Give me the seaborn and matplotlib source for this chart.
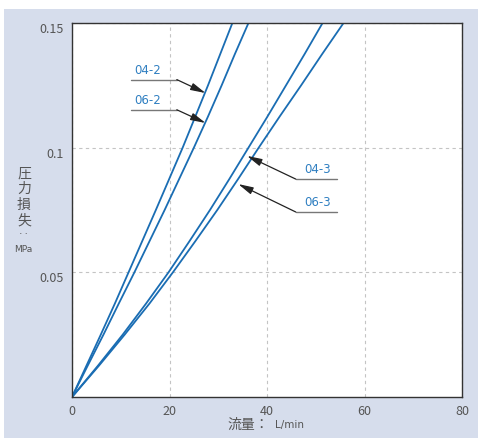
import numpy as np
import pandas as pd
import seaborn as sns
import matplotlib.pyplot as plt
import matplotlib.transforms as mtransforms
from matplotlib.patches import Rectangle

# pressure loss (MPa) and flow (L/min) for each model
pressure = [0, 0.0125, 0.025, 0.0375, 0.05, 0.0625, 0.075, 0.0875,
            0.1, 0.1125, 0.125, 0.1375, 0.15]
flow_04_2 = [0, 2.95, 5.9, 8.8, 11.6, 14.4, 17.2, 19.95, 22.7, 25.3, 27.9, 30.4, 32.9]
flow_06_2 = [0, 3.2, 6.45, 9.6, 12.8, 15.9, 19.0, 22.0, 25.0, 27.9, 30.7, 33.4, 36.2]
flow_04_3 = [0, 5.3, 10.4, 15.2, 19.8, 24.1, 28.3, 32.3, 36.2, 40.1, 43.9, 47.7, 51.4]
flow_06_3 = [0, 5.5, 10.8, 15.9, 20.7, 25.3, 29.8, 34.1, 38.3, 42.6, 47.0, 51.3, 55.7]
models = ["04-2", "06-2", "04-3", "06-3"]

x_ticks = [0, 20, 40, 60, 80]
y_ticks = [0.05, 0.1, 0.15]
y_labels = ["0.05", "0.1", "0.15"]

rows = []
for name, fl in zip(models, [flow_04_2, flow_06_2, flow_04_3, flow_06_3]):
    for q, p in zip(fl, pressure):
        rows.append({"model": name, "flow": q, "pressure": p})
df = pd.DataFrame(rows)

sns.set_style("white")
plt.rcParams["font.family"] = ["Noto Sans CJK JP", "DejaVu Sans"]

line_blue = "#1a6db3"
text_blue = "#2f7fc1"
grey_txt = "#555555"

fig = plt.figure(figsize=(4.78, 4.39), dpi=100, facecolor="white")
fig.patches.append(Rectangle((4 / 478, 0), 1 - 4 / 478, 429 / 439,
                             transform=fig.transFigure, facecolor="#d6ddec",
                             edgecolor="none", zorder=-10))
ax = fig.add_axes([72 / 478, 41 / 439, 390 / 478, 374 / 439])
ax.set_zorder(5)
ax.set_facecolor("white")

sns.lineplot(data=df, x="flow", y="pressure", hue="model", units="model",
             estimator=None, palette=[line_blue] * 4, legend=False,
             linewidth=1.3, ax=ax)

ax.set_xlim(0, 80)
ax.set_ylim(0, 0.15)
ax.set_xticks(x_ticks)
ax.set_yticks(y_ticks)
ax.set_yticklabels(y_labels)
ax.tick_params(length=0, labelsize=9, colors=grey_txt)
ax.tick_params(axis="x", pad=5)
ax.tick_params(axis="y", pad=6)
shift = mtransforms.ScaledTranslation(0, -4 / 100, fig.dpi_scale_trans)
for lab in ax.get_yticklabels():
    lab.set_transform(lab.get_transform() + shift)
ax.grid(True, color="#c4c4c4", linestyle=(0, (3, 3)), linewidth=0.8)
for s in ax.spines.values():
    s.set_color("#333333")
    s.set_linewidth(1.0)
ax.set_xlabel("")
ax.set_ylabel("")

# leader labels
def leader(text, tx, x0, x1, y, tip):
    ax.plot([x0, x1], [y, y], color="#777777", lw=1.0, clip_on=False)
    ax.text(tx, y + 0.0015, text, color=text_blue, fontsize=8.5,
            ha="center", va="bottom", family="DejaVu Sans")
    ax.annotate("", xy=tip, xytext=(x1 if tip[0] > x1 else x0, y),
                arrowprops=dict(arrowstyle="-|>,head_length=0.9,head_width=0.22",
                                color="#222222", lw=0.9, shrinkA=0, shrinkB=0))

leader("04-2", 15.5, 12.1, 21.5, 0.1273, (27.4, 0.1219))
leader("06-2", 15.5, 12.1, 21.5, 0.1152, (27.4, 0.1099))
leader("04-3", 50.4, 45.9, 54.4, 0.0874, (35.9, 0.0967))
leader("06-3", 50.4, 45.9, 54.4, 0.0742, (34.1, 0.0854))

# axis titles
fig.text(24 / 478, 1 - 197 / 439, "圧\n力\n損\n失", fontsize=10, color=grey_txt,
         ha="center", va="center", linespacing=1.15)
fig.text(24 / 478, 1 - 235 / 439, "‥", fontsize=8, color=grey_txt,
         ha="center", va="center")
fig.text(23 / 478, 1 - 250 / 439, "MPa", fontsize=6.5, color=grey_txt,
         ha="center", va="center", family="DejaVu Sans")
fig.text(269 / 478, 1 - 425 / 439, "流量：", fontsize=10, color=grey_txt,
         ha="right", va="center")
fig.text(275 / 478, 1 - 425 / 439, "L/min", fontsize=7.5, color=grey_txt,
         ha="left", va="center", family="DejaVu Sans")

fig.savefig("out.png", dpi=100, facecolor="white")
